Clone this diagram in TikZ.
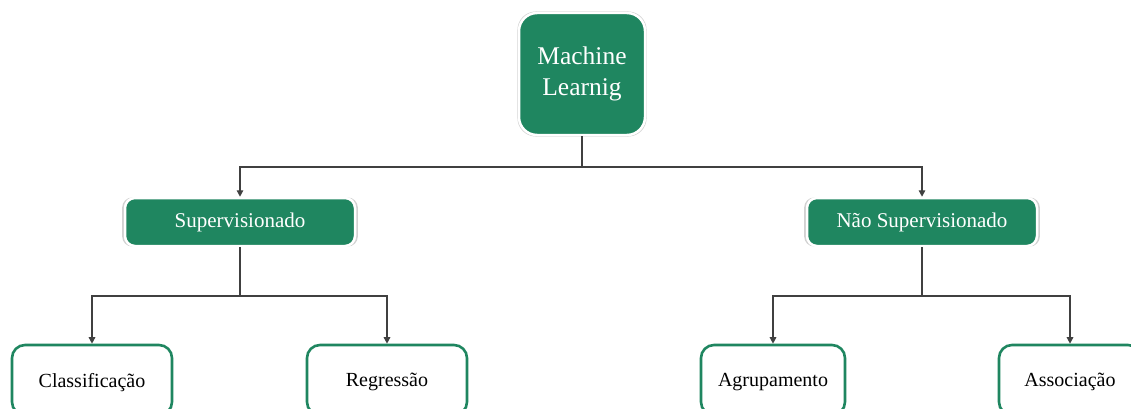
\documentclass[tikz,border=0pt]{standalone}
\usepackage{fontspec}
\setmainfont{Liberation Serif}
\usetikzlibrary{shadows,arrows.meta}
\definecolor{mlgreen}{RGB}{31,134,96}
\definecolor{linkgray}{RGB}{64,64,64}
\tikzset{
  greenbox/.style={draw=white, line width=2.5pt, fill=mlgreen, text=white,
    rounded corners=10pt, align=center, inner sep=0pt,
    general shadow={shadow scale=1.025, fill=black, opacity=0.18}},
  leafbox/.style={draw=mlgreen, line width=2.6pt, fill=white, text=black,
    rounded corners=13pt, align=center, inner sep=0pt,
    minimum height=70pt, text depth=0pt},
  leaftext/.style={font=\fontsize{20}{23}\selectfont},
  midtext/.style={font=\fontsize{21}{25}\selectfont},
  link/.style={draw=linkgray, line width=1.4pt},
  linkarrow/.style={link, -{Triangle[length=6.5pt,width=6.5pt]}},
}
\begin{document}
\begin{tikzpicture}[x=1pt,y=-1pt]
\useasboundingbox (0,0) rectangle (1131,409);
\begin{scope}
\clip (0,0) rectangle (1131,409);
\fill[white] (0,0) rectangle (1131,409);

% root
\node[greenbox, rounded corners=18pt, minimum width=126pt, minimum height=122pt,
      font=\fontsize{25.5}{31}\selectfont] (ml) at (582,74) {Machine\\Learnig};

% second level
\node[greenbox, midtext, minimum width=230pt, minimum height=48pt] (sup) at (240,222) {Supervisionado};
\node[greenbox, midtext, minimum width=230pt, minimum height=48pt] (ns) at (922,222) {Não Supervisionado};

% leaves
\node[leafbox, leaftext, minimum width=160pt] (cls) at (92,380) {Classificação};
\node[leafbox, leaftext, minimum width=160pt] (reg) at (387,380) {Regressão};
\node[leafbox, leaftext, minimum width=144pt] (agr) at (773,380) {Agrupamento};
\node[leafbox, leaftext, minimum width=142pt] (ass) at (1070,380) {Associação};

% junctions
\coordinate (j0) at (582,167);
\coordinate (j1) at (240,296);
\coordinate (j2) at (922,296);

% connectors
\draw[link] (ml.south) -- (j0);
\draw[linkarrow] (j0) -| (sup.north);
\draw[linkarrow] (j0) -| (ns.north);
\draw[link] (sup.south) -- (j1);
\draw[linkarrow] (j1) -| (cls.north);
\draw[linkarrow] (j1) -| (reg.north);
\draw[link] (ns.south) -- (j2);
\draw[linkarrow] (j2) -| (agr.north);
\draw[linkarrow] (j2) -| (ass.north);
\end{scope}
\end{tikzpicture}
\end{document}
